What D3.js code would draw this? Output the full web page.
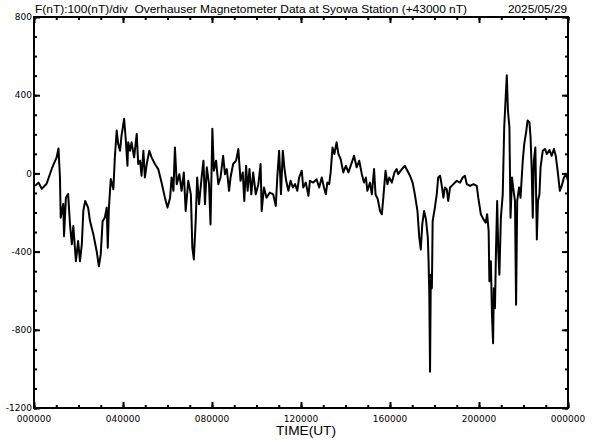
<!DOCTYPE html>
<html>
<head>
<meta charset="utf-8">
<script src="https://cdn.jsdelivr.net/npm/d3@7"></script>
<style>
  body { margin: 0; background: #fff; }
  svg { display: block; }
</style>
</head>
<body>
<svg id="chart" width="592" height="440"></svg>
<script>
// minutes since 00:00 UT and F deviation in nT (+43000 nT)
const minutes = [
  3, 12, 21, 34, 48, 61, 66, 70, 72, 79, 81, 86, 92, 97, 102, 106, 113, 119, 124, 129,
  133, 138, 146, 151, 160, 169, 175, 180, 185, 191, 196, 199, 202, 207, 214, 218, 223, 227, 232, 236,
  243, 247, 252, 254, 259, 263, 270, 277, 281, 286, 290, 295, 299, 304, 311, 317, 326, 335, 344, 353,
  360, 367, 371, 376, 380, 385, 392, 398, 404, 409, 416, 423, 427, 431, 436, 440, 445, 452, 457, 461,
  466, 472, 476, 481, 485, 491, 497, 503, 510, 515, 520, 526, 530, 537, 545, 551, 557, 563, 567, 572,
  576, 581, 586, 591, 598, 605, 611, 614, 620, 627, 636, 645, 652, 656, 661, 666, 671, 675, 680, 686,
  692, 698, 704, 710, 715, 722, 726, 733, 740, 744, 753, 762, 769, 776, 782, 787, 791, 796, 800, 805,
  810, 816, 821, 827, 834, 841, 848, 857, 863, 870, 877, 884, 890, 895, 899, 906, 911, 917, 921, 927,
  933, 938, 942, 948, 953, 958, 965, 972, 978, 982, 992, 1000, 1007, 1014, 1021, 1027, 1034, 1039, 1043, 1047,
  1052, 1057, 1062, 1064, 1066, 1068, 1070, 1073, 1075, 1081, 1086, 1090, 1095, 1099, 1104, 1108, 1113, 1117, 1122, 1131,
  1140, 1149, 1156, 1162, 1167, 1176, 1185, 1194, 1198, 1205, 1212, 1218, 1222, 1226, 1228, 1232, 1235, 1238, 1240, 1243,
  1246, 1249, 1252, 1255, 1259, 1264, 1268, 1272, 1275, 1278, 1282, 1285, 1289, 1292, 1297, 1300, 1303, 1308, 1312, 1318,
  1322, 1327, 1331, 1336, 1339, 1342, 1345, 1348, 1352, 1356, 1359, 1363, 1366, 1372, 1378, 1383, 1390, 1396, 1402, 1407,
  1412, 1418, 1423, 1429, 1435, 1440
];
const fValues = [
  -64, -47, -79, -53, 24, 82, 127, -20, -227, -156, -321, -124, -105, -259, -362, -269, -449, -346, -449, -362,
  -192, -141, -175, -244, -311, -398, -475, -413, -244, -227, -175, -380, -175, -29, -81, 82, 219, 151, 116, 193,
  279, 185, 39, 159, 116, 159, 82, 202, 48, 65, -12, 116, -21, 48, 116, 82, 48, 22, -47, -124,
  -175, -124, -21, -89, 133, -55, -4, -89, 5, -192, -38, -107, -380, -440, -244, -21, -158, -21, 65, -158,
  31, -55, -261, 228, 14, 65, -55, -21, 90, -4, 22, -89, -21, 48, 65, 125, -38, 5, -141, 39,
  -89, 22, -107, 5, -107, -55, 48, -192, -72, -124, -98, -107, -167, -21, 116, -107, 116, 31, -38, -89,
  -38, -72, -55, -89, -21, 14, -72, -47, -115, -38, -47, -30, -72, -21, -72, -107, -47, -55, 5, 133,
  99, 159, 99, 73, 5, 39, 5, 56, 90, 31, 65, -4, -47, -21, -89, -47, -107, 22, -107, -132,
  -192, -209, -124, 14, -55, -21, -47, 5, 22, -4, 22, 39, 14, -12, -47, -107, -192, -329, -389, -261,
  -192, -235, -329, -449, -620, -1015, -518, -587, -244, -175, -107, -21, -12, -55, -124, -72, -81, -141, -72, -55,
  -38, -47, -21, -12, -55, -64, -55, -64, -124, -209, -235, -252, -209, -295, -552, -449, -723, -869, -587, -690,
  -380, -141, -398, -518, -227, -107, 236, 390, 502, 322, 236, -227, -21, -72, -141, -672, -141, -72, -124, 65,
  151, 210, 270, 262, 185, 31, -227, 65, 133, -338, -141, -107, 31, 116, 125, 99, 120, 90, 125, 90,
  14, -89, -64, -21, -4, -38
];

const yLabelTicks = [800, 400, 0, -400, -800, -1200];
const xLabelHours = [0, 4, 8, 12, 16, 20, 24];
const xLabels = ["000000", "040000", "080000", "120000", "160000", "200000", "000000"];
const titleText = "F(nT):100(nT)/div  Overhauser Magnetometer Data at Syowa Station (+43000 nT)";
const dateText = "2025/05/29";

const svg = d3.select("#chart");
const plotL = 34, plotR = 568, plotT = 17, plotB = 408;

const x = d3.scaleLinear().domain([0, 24]).range([plotL, plotR]);
const y = d3.scaleLinear().domain([-1200, 800]).range([plotB, plotT]);

const hourTicks = d3.range(0, 25, 1);
const minorY = d3.range(-1200, 801, 100);

// inward ticks on all four sides
function ticksOnly(axis, scale, vals, size) {
  return axis(scale).tickValues(vals).tickSize(size).tickFormat("");
}
const g = svg.append("g");
g.append("g").attr("transform", `translate(0,${plotB})`)
  .call(ticksOnly(d3.axisBottom, x, hourTicks, -3));
g.append("g").attr("transform", `translate(0,${plotB})`)
  .call(ticksOnly(d3.axisBottom, x, xLabelHours, -6));
g.append("g").attr("transform", `translate(0,${plotT})`)
  .call(ticksOnly(d3.axisTop, x, hourTicks, -3));
g.append("g").attr("transform", `translate(0,${plotT})`)
  .call(ticksOnly(d3.axisTop, x, xLabelHours, -6));
g.append("g").attr("transform", `translate(${plotL},0)`)
  .call(ticksOnly(d3.axisLeft, y, minorY, -3));
g.append("g").attr("transform", `translate(${plotL},0)`)
  .call(ticksOnly(d3.axisLeft, y, yLabelTicks, -6));
g.append("g").attr("transform", `translate(${plotR},0)`)
  .call(ticksOnly(d3.axisRight, y, minorY, -3));
g.append("g").attr("transform", `translate(${plotR},0)`)
  .call(ticksOnly(d3.axisRight, y, yLabelTicks, -6));
g.selectAll(".domain").remove();
g.selectAll(".tick line").attr("stroke", "#000").attr("stroke-width", 2);

// frame
svg.append("rect")
  .attr("x", plotL).attr("y", plotT)
  .attr("width", plotR - plotL).attr("height", plotB - plotT)
  .attr("fill", "none").attr("stroke", "#000").attr("stroke-width", 2);

// labels
svg.append("g").selectAll("text")
  .data(yLabelTicks)
  .join("text")
  .attr("x", plotL - 2)
  .attr("y", d => y(d))
  .attr("dy", "0.35em")
  .attr("text-anchor", "end")
  .attr("font-family", "DejaVu Sans")
  .attr("font-size", 9)
  .text(d => d);

svg.append("g").selectAll("text")
  .data(xLabelHours)
  .join("text")
  .attr("x", d => x(d))
  .attr("y", plotB + 14)
  .attr("text-anchor", "middle")
  .attr("font-family", "DejaVu Sans")
  .attr("font-size", 9)
  .text((d, i) => xLabels[i]);

svg.append("text")
  .attr("x", 306).attr("y", 435)
  .attr("text-anchor", "middle")
  .attr("font-family", "Liberation Sans")
  .attr("font-size", 13)
  .attr("textLength", 60)
  .attr("lengthAdjust", "spacingAndGlyphs")
  .text("TIME(UT)");

svg.append("text")
  .attr("x", 35).attr("y", 13)
  .attr("font-family", "Liberation Sans")
  .attr("font-size", 11)
  .style("white-space", "pre")
  .attr("textLength", 432)
  .attr("lengthAdjust", "spacingAndGlyphs")
  .text(titleText);

svg.append("text")
  .attr("x", 508).attr("y", 13)
  .attr("font-family", "Liberation Sans")
  .attr("font-size", 11)
  .attr("textLength", 59)
  .attr("lengthAdjust", "spacingAndGlyphs")
  .text(dateText);

// data line
const line = d3.line()
  .x((d, i) => x(minutes[i] / 60))
  .y(d => y(d));

svg.append("path")
  .datum(fValues)
  .attr("fill", "none")
  .attr("stroke", "#000")
  .attr("stroke-width", 2)
  .attr("stroke-linejoin", "round")
  .attr("d", line);
</script>
</body>
</html>
